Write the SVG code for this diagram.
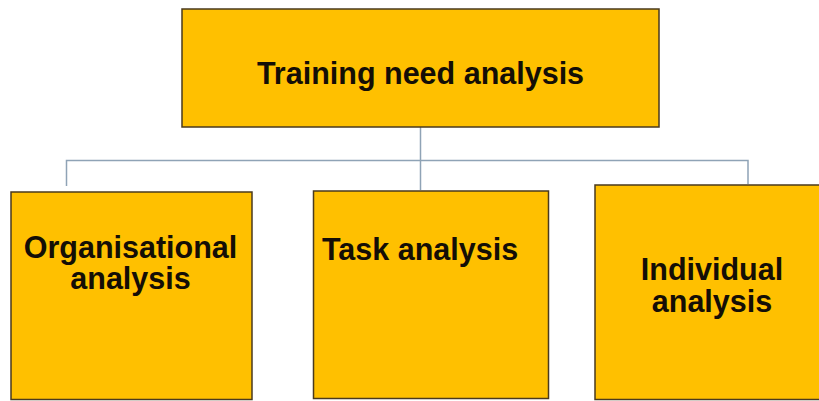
<svg xmlns="http://www.w3.org/2000/svg" width="819" height="401" viewBox="0 0 819 401">
  <style>
    .box { fill: #FFC000; stroke: #4a3a1e; stroke-width: 1.5; }
    .lbl { font-family: "Liberation Sans", Arial, sans-serif; font-weight: bold; font-size: 30.5px; fill: #140e06; }
    .link { fill: none; stroke: #8fa3b6; stroke-width: 1.5; }
  </style>
  <rect width="819" height="401" fill="#ffffff"/>

  <!-- tree connectors -->
  <g id="connectors">
    <path class="link" d="M420.5,127 V190"/>
    <path class="link" d="M66.5,186 V160.5 H748 V184"/>
  </g>

  <g id="root">
    <rect class="box" x="182" y="9" width="477" height="118"/>
    <text class="lbl" x="420.5" y="83.5" text-anchor="middle">Training need analysis</text>
  </g>

  <g id="organisational">
    <rect class="box" x="11" y="192" width="241" height="207.5"/>
    <text class="lbl" x="130.5" y="258" text-anchor="middle">Organisational</text>
    <text class="lbl" x="130.5" y="289" text-anchor="middle">analysis</text>
  </g>

  <g id="task">
    <rect class="box" x="313.5" y="191" width="235" height="207.5"/>
    <text class="lbl" x="322" y="260">Task analysis</text>
  </g>

  <g id="individual">
    <rect class="box" x="595" y="185" width="230" height="214.5"/>
    <text class="lbl" x="712" y="280" text-anchor="middle">Individual</text>
    <text class="lbl" x="712" y="312" text-anchor="middle">analysis</text>
  </g>
</svg>
